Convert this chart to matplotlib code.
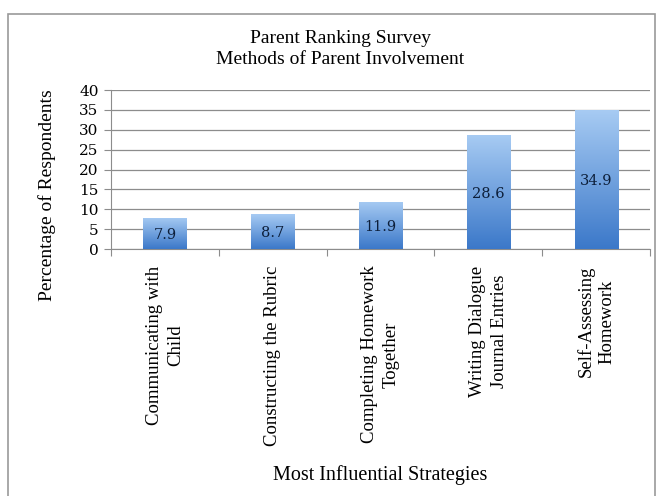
import numpy as np
import matplotlib.pyplot as plt
from matplotlib.patches import Rectangle
from matplotlib.colors import LinearSegmentedColormap

# 数据
categories = ['Communicating with\nChild', 'Constructing the Rubric',
              'Completing Homework\nTogether', 'Writing Dialogue\nJournal Entries',
              'Self-Assessing\nHomework']
values = [7.9, 8.7, 11.9, 28.6, 34.9]
y_ticks = [0, 5, 10, 15, 20, 25, 30, 35, 40]

serif = ['Liberation Serif', 'DejaVu Serif']
num_font = ['DejaVu Serif']

fig = plt.figure(figsize=(6.58, 4.96), dpi=100)
ax = fig.add_axes([111 / 658, 1 - 249 / 496, 539 / 658, 159 / 496])

# 外框
fig.patches.append(Rectangle((8 / 658, -0.05), 647 / 658, 1 - 14 / 496 + 0.05,
                             transform=fig.transFigure, fill=False,
                             edgecolor='#9a9a9a', linewidth=1.2))

x = np.arange(len(values))
bars = ax.bar(x, values, width=0.4, color='none', edgecolor='none', zorder=3)

# 渐变填充
cmap = LinearSegmentedColormap.from_list('blue', ['#3b78c9', '#a7cbf3'])
grad = np.linspace(0, 1, 256).reshape(-1, 1)
for b in bars:
    im = ax.imshow(grad, cmap=cmap, origin='lower', aspect='auto',
                   extent=[b.get_x(), b.get_x() + b.get_width(), 0, b.get_height()],
                   zorder=3)
    im.set_clip_path(b)

for xi, v in zip(x, values):
    ax.text(xi, v / 2 - 0.4, f'{v}', ha='center', va='center', fontsize=10.5,
            color='#0d1f3a', family=num_font, zorder=4)

ax.set_xlim(-0.5, len(values) - 0.5)
ax.set_ylim(0, 40)
ax.set_yticks(y_ticks)
ax.set_yticklabels([str(t) for t in y_ticks], fontsize=11, family=num_font)
ax.yaxis.grid(True, color='#8c8c8c', linewidth=0.9, zorder=0)
ax.set_axisbelow(True)

ax.set_xticks(np.arange(len(values) + 1) - 0.5, minor=False)
ax.set_xticklabels([])
ax.set_xticks(x, minor=True)
ax.set_xticklabels(categories, minor=True, rotation=90, fontsize=13.5,
                   family=serif, va='top', ha='center', linespacing=1.35)
ax.tick_params(axis='x', which='minor', length=0, pad=12)
ax.tick_params(axis='x', which='major', length=5, color='#8c8c8c', direction='out')
ax.tick_params(axis='y', length=5, color='#8c8c8c', pad=4)

for s in ['top', 'right']:
    ax.spines[s].set_visible(False)
for s in ['left', 'bottom']:
    ax.spines[s].set_color('#8c8c8c')

fig.text(47 / 658, 1 - 195 / 496, 'Percentage of Respondents', rotation=90,
         ha='center', va='center', fontsize=14, family=serif)
fig.text(380 / 658, 1 - 475 / 496, 'Most Influential Strategies', ha='center',
         va='center', fontsize=14.5, family=serif)
fig.text(340 / 658, 1 - 49 / 496, 'Parent Ranking Survey\nMethods of Parent Involvement',
         ha='center', va='center', fontsize=14, family=serif, linespacing=1.25)

fig.savefig('out.png', dpi=100)
